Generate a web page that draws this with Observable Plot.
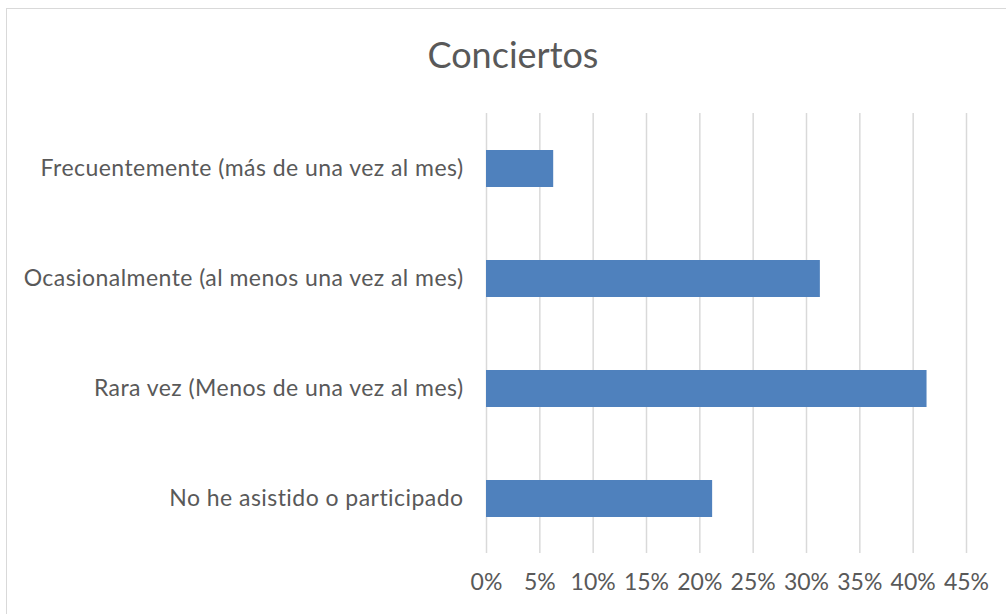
<!DOCTYPE html>
<html>
<head>
<meta charset="utf-8">
<script src="https://cdn.jsdelivr.net/npm/d3@7"></script>
<script src="https://cdn.jsdelivr.net/npm/@observablehq/plot@0.6"></script>
<style>
  html, body { margin: 0; padding: 0; background: #fff; }
  body { width: 1006px; height: 614px; position: relative; overflow: hidden; font-family: Lato, "Open Sans", sans-serif; }
  #frame { position: absolute; left: 6px; top: 8px; width: 1100px; height: 700px; border: 1.5px solid #d9d9d9; box-sizing: border-box; }
  #title { position: absolute; left: 0; width: 1026px; top: 36px; line-height: 36px; text-align: center; font-size: 36px; color: #595959; font-family: Lato, sans-serif; }
  #chart { position: absolute; left: 0; top: 0; }
  #chart g[aria-label="y-axis tick label"] text { letter-spacing: 0.45px; }
</style>
</head>
<body>
<div id="frame"></div>
<div id="title">Conciertos</div>
<div id="chart"></div>
<script>
const categories = [
  "Frecuentemente (más de una vez al mes)",
  "Ocasionalmente (al menos una vez al mes)",
  "Rara vez (Menos de una vez al mes)",
  "No he asistido o participado"
];
const values = [0.063, 0.313, 0.413, 0.212];
const xTicks = [0, 0.05, 0.10, 0.15, 0.20, 0.25, 0.30, 0.35, 0.40, 0.45];

const data = categories.map((c, i) => ({category: c, value: values[i]}));
const pct = d => Math.round(d * 100) + "%";

const plot = Plot.plot({
  width: 1006,
  height: 614,
  marginTop: 113,
  marginBottom: 61,
  marginLeft: 486,
  marginRight: 40,
  style: {fontFamily: "Lato, sans-serif", fontSize: "23px", color: "#595959", background: "transparent"},
  x: {domain: [0, 0.45], ticks: xTicks, tickFormat: pct, tickSize: 0, tickPadding: 20, label: null},
  y: {domain: categories, paddingInner: 0.664, paddingOuter: 0.332, tickSize: 0, tickPadding: 23, label: null},
  marks: [
    Plot.ruleX(xTicks, {stroke: "#d9d9d9", strokeWidth: 1.5}),
    Plot.barX(data, {x: "value", y: "category", fill: "#4f81bd"}),
    Plot.axisX({ticks: xTicks, tickFormat: pct, tickSize: 0, tickPadding: 20, label: null, fill: "#595959", fontSize: 23}),
    Plot.axisY({tickSize: 0, tickPadding: 23, label: null, fill: "#595959", fontSize: 23})
  ]
});
document.getElementById("chart").appendChild(plot);
</script>
</body>
</html>
